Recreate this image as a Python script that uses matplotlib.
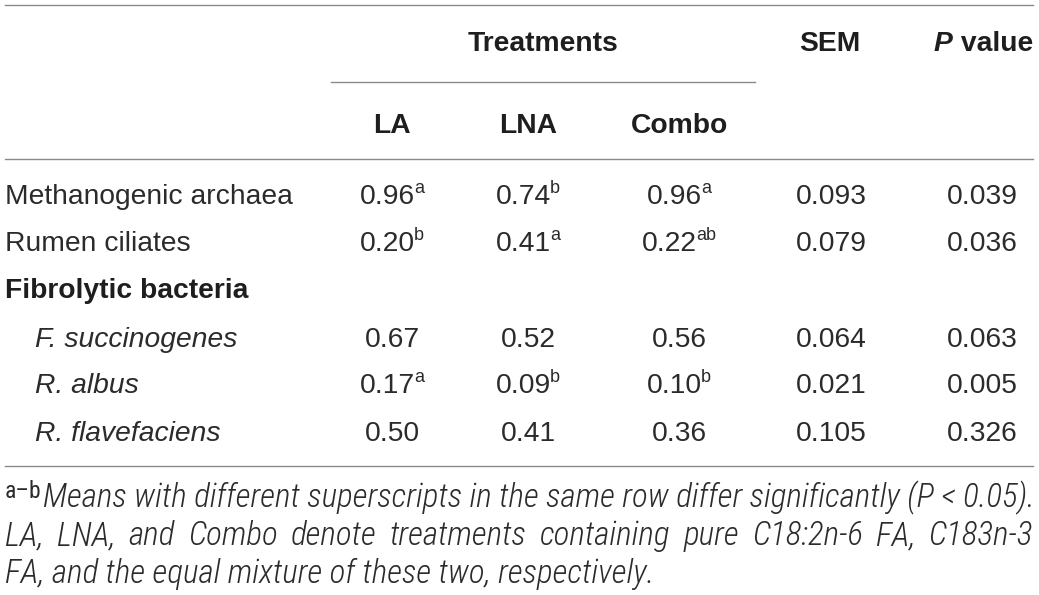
import matplotlib
matplotlib.use('Agg')
import matplotlib.pyplot as plt
from matplotlib import font_manager

# ---------------- data ----------------
row_labels = ["Methanogenic archaea", "Rumen ciliates", "Fibrolytic bacteria",
              "F. succinogenes", "R. albus", "R. flavefaciens"]
row_kinds = ["plain", "plain", "group", "species", "species", "species"]

la_vals = ["0.96", "0.20", "", "0.67", "0.17", "0.50"]
la_sups = ["a", "b", "", "", "a", ""]
lna_vals = ["0.74", "0.41", "", "0.52", "0.09", "0.41"]
lna_sups = ["b", "a", "", "", "b", ""]
combo_vals = ["0.96", "0.22", "", "0.56", "0.10", "0.36"]
combo_sups = ["a", "ab", "", "", "b", ""]
sem_vals = ["0.093", "0.079", "", "0.064", "0.021", "0.105"]
p_vals = ["0.039", "0.036", "", "0.063", "0.005", "0.326"]

group_header = "Treatments"
treat_headers = ["LA", "LNA", "Combo"]
sem_header = "SEM"

foot_sup = "a\u2013b"
foot_lines = ["Means with different superscripts in the same row differ significantly (P < 0.05).",
              "LA, LNA, and Combo denote treatments containing pure C18:2n-6 FA, C183n-3",
              "FA, and the equal mixture of these two, respectively."]

# ---------------- layout ----------------
W, H = 1039, 595
fig = plt.figure(figsize=(W / 100, H / 100), dpi=100)
ax = fig.add_axes([0, 0, 1, 1])
ax.set_xlim(0, W)
ax.set_ylim(H, 0)
ax.axis('off')

names = {f.name for f in font_manager.fontManager.ttflist}


def pick(cands):
    for c in cands:
        if c in names:
            return c
    return 'DejaVu Sans'


FONT = pick(['Nimbus Sans', 'Liberation Sans', 'Arimo'])
NARROW = pick(['Roboto Condensed', 'Barlow Semi Condensed', 'Fira Sans Condensed',
               'IBM Plex Sans Condensed', 'Archivo Narrow', 'Liberation Sans'])

TXT = '#2b2b2b'
HDR = '#1e1e1e'
LINE = '#8a8a8a'
MAIN = 20.3
SUP = 13.0
LEFT, RIGHT = 5, 1033

renderer = fig.canvas.get_renderer()


def width(t):
    return t.get_window_extent(renderer).width


def cell(xc, yb, main, sup, size=MAIN, supsize=SUP, rise=11, color=TXT):
    t = ax.text(0, yb, main, fontsize=size, family=FONT, color=color,
                ha='left', va='baseline')
    w1 = width(t)
    s = None
    w2 = 0
    if sup:
        s = ax.text(0, yb - rise, sup, fontsize=supsize, family=FONT, color=color,
                    ha='left', va='baseline')
        w2 = width(s) - 1
    x0 = xc - (w1 + w2) / 2
    t.set_x(x0)
    if s is not None:
        s.set_x(x0 + w1 - 1)


def justified(x0, x1, yb, line, size):
    words = line.split(' ')
    ts = [ax.text(0, yb, w, fontsize=size, family=NARROW, style='italic',
                  weight='light', color=TXT, va='baseline') for w in words]
    ws = [width(t) for t in ts]
    gap = (x1 - x0 - sum(ws)) / (len(words) - 1)
    x = x0
    for t, w in zip(ts, ws):
        t.set_x(x)
        x += w + gap


# rules
ax.plot([LEFT, RIGHT], [5, 5], color=LINE, lw=1.0)
ax.plot([331, 755], [82, 82], color=LINE, lw=1.0)
ax.plot([LEFT, RIGHT], [159, 159], color=LINE, lw=1.0)
ax.plot([LEFT, RIGHT], [466, 466], color=LINE, lw=1.0)

# headers
hb1, hb2 = 51, 133
ax.text(543, hb1, group_header, fontsize=MAIN, family=FONT, weight='bold',
        color=HDR, ha='center', va='baseline')
ax.text(830, hb1, sem_header, fontsize=MAIN, family=FONT, weight='bold',
        color=HDR, ha='center', va='baseline')
pv1 = ax.text(0, hb1, "P", fontsize=MAIN, family=FONT, weight='bold', style='italic',
              color=HDR, ha='left', va='baseline')
pv2 = ax.text(0, hb1, " value", fontsize=MAIN, family=FONT, weight='bold',
              color=HDR, ha='left', va='baseline')
wp1, wp2 = width(pv1), width(pv2)
pv1.set_x(RIGHT - wp1 - wp2)
pv2.set_x(RIGHT - wp2)

col_x = [392, 528, 679, 831, 982]
for xc, h in zip(col_x[:3], treat_headers):
    ax.text(xc, hb2, h, fontsize=MAIN, family=FONT, weight='bold',
            color=HDR, ha='center', va='baseline')

# body
baselines = [204, 251, 298, 347, 393, 441]
for i, (lab, kind) in enumerate(zip(row_labels, row_kinds)):
    yb = baselines[i]
    if kind == 'plain':
        ax.text(LEFT, yb, lab, fontsize=MAIN, family=FONT, color=TXT, va='baseline')
    elif kind == 'group':
        ax.text(LEFT, yb, lab, fontsize=MAIN, family=FONT, weight='bold', color=HDR,
                va='baseline')
        continue
    else:
        ax.text(35, yb, lab, fontsize=MAIN, family=FONT, style='italic', color=TXT,
                va='baseline')
    cell(col_x[0], yb, la_vals[i], la_sups[i])
    cell(col_x[1], yb, lna_vals[i], lna_sups[i])
    cell(col_x[2], yb, combo_vals[i], combo_sups[i])
    cell(col_x[3], yb, sem_vals[i], "")
    cell(col_x[4], yb, p_vals[i], "")

# footnote
fb = [507, 545, 583]
fs = ax.text(LEFT, fb[0] - 9, foot_sup, fontsize=17, family=NARROW,
             color=TXT, va='baseline')
xs = LEFT + width(fs) + 1
f1 = ax.text(xs, fb[0], foot_lines[0], fontsize=18, family=NARROW, style='italic',
             weight='light', color=TXT, va='baseline')
fsize = 18 * (RIGHT - xs) / width(f1)
f1.set_fontsize(fsize)
justified(LEFT, RIGHT, fb[1], foot_lines[1], fsize)
ax.text(LEFT, fb[2], foot_lines[2], fontsize=fsize, family=NARROW, style='italic',
        weight='light', color=TXT, va='baseline')

fig.savefig('out.png', dpi=100)
